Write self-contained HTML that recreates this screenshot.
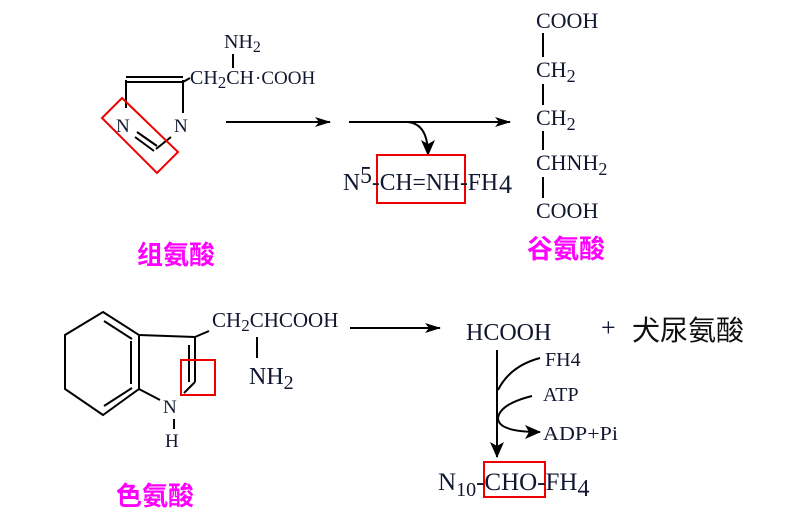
<!DOCTYPE html>
<html><head><meta charset="utf-8"><style>
html,body{margin:0;padding:0;background:#fff;width:787px;height:531px;overflow:hidden}
svg text{font-family:"Liberation Serif","Noto Serif CJK SC",serif;fill:#101830}
.cj{font-family:"Liberation Sans","Noto Sans CJK SC",sans-serif;fill:#ff00ff;font-weight:bold}
</style></head><body>
<svg width="787" height="531" viewBox="0 0 787 531" xmlns="http://www.w3.org/2000/svg">
<defs><marker id="ah" markerWidth="16" markerHeight="10" refX="15" refY="5" orient="auto" markerUnits="userSpaceOnUse"><path d="M0,0 L16,5 L0,10 L4,5 Z" fill="#000"/></marker>
<marker id="ah2" markerWidth="16" markerHeight="14" refX="15" refY="7" orient="auto" markerUnits="userSpaceOnUse"><path d="M0,0 L16,7 L0,14 L4,7 Z" fill="#000"/></marker></defs>
<g stroke="#000" stroke-width="2" fill="none">
<!-- histidine -->
<line x1="126" y1="77" x2="183" y2="77"/><line x1="126" y1="82" x2="183" y2="82"/>
<line x1="126" y1="80" x2="126" y2="108"/><line x1="183" y1="80" x2="183" y2="113"/>
<line x1="137" y1="132" x2="157" y2="146"/><line x1="135" y1="137" x2="154" y2="151"/>
<line x1="156" y1="149" x2="171" y2="137"/>
<line x1="183" y1="82" x2="190" y2="78"/>
<line x1="233" y1="54" x2="233" y2="68"/>
<line x1="226" y1="122" x2="330" y2="122" marker-end="url(#ah)"/>
<line x1="349" y1="122" x2="510" y2="122" marker-end="url(#ah)"/>
<path d="M408,122 Q428,124 428,155" marker-end="url(#ah2)"/>
<!-- glutamate -->
<line x1="543" y1="33" x2="543" y2="57"/><line x1="543" y1="84" x2="543" y2="105"/>
<line x1="543" y1="131" x2="543" y2="150"/><line x1="543" y1="177" x2="543" y2="198"/>
<!-- indole -->
<path d="M103,312 L139,335 L139,389 L103,415 L65,389 L65,335 Z"/>
<line x1="104" y1="321" x2="132" y2="339"/><line x1="131" y1="341" x2="131" y2="384"/><line x1="104" y1="406" x2="132" y2="388"/>
<line x1="139" y1="335" x2="195" y2="337"/>
<line x1="195" y1="337" x2="195" y2="382"/><line x1="189" y1="345" x2="189" y2="382"/>
<line x1="195" y1="382" x2="184" y2="393"/>
<line x1="139" y1="389" x2="160" y2="400"/>
<line x1="174" y1="419" x2="174" y2="429"/>
<line x1="195" y1="337" x2="209" y2="331"/>
<line x1="257" y1="337" x2="257" y2="358"/>
<line x1="350" y1="328" x2="440" y2="328" marker-end="url(#ah)"/>
<line x1="497" y1="350" x2="497" y2="457" marker-end="url(#ah2)"/>
<path d="M540,358 Q510,366 498,390"/>
<path d="M532,396 Q500,404 498,418 Q498,432 540,432" marker-end="url(#ah2)"/>
</g>
<g stroke="#e00" stroke-width="2" fill="none">
<polygon points="102,118 122,98 178,152 157,173"/>
<rect x="377" y="155" width="88" height="48"/>
<rect x="181" y="360" width="34" height="35"/>
<rect x="484" y="462" width="61" height="35"/>
</g>
<g font-size="22">
<text x="224" y="48" font-size="20">NH<tspan font-size="16" dy="4">2</tspan></text>
<text x="190" y="84" font-size="20">CH<tspan font-size="17" dy="4">2</tspan><tspan dy="-4">CH</tspan></text>
<text x="255" y="84" font-size="19">·COOH</text>
<text x="116" y="132" font-size="19">N</text><text x="174" y="132" font-size="19">N</text>
<text x="343" y="190" font-size="24" textLength="155" lengthAdjust="spacingAndGlyphs">N<tspan dy="-7">5</tspan><tspan dy="7">-CH=NH-FH</tspan></text>
<text x="499" y="193" font-size="26">4</text>
<text x="536" y="28">COOH</text>
<text x="536" y="77">CH<tspan font-size="18" dy="5">2</tspan></text>
<text x="536" y="125">CH<tspan font-size="18" dy="5">2</tspan></text>
<text x="536" y="170">CHNH<tspan font-size="18" dy="5">2</tspan></text>
<text x="536" y="218">COOH</text>
<text x="212" y="327" font-size="21">CH<tspan font-size="17" dy="4">2</tspan><tspan dy="-4">CHCOOH</tspan></text>
<text x="249" y="384" font-size="24">NH<tspan font-size="20" dy="5">2</tspan></text>
<text x="163" y="413" font-size="19">N</text><text x="165" y="447" font-size="19">H</text>
<text x="466" y="340" font-size="24">HCOOH</text>
<text x="601" y="336" font-size="26">+</text>
<text x="545" y="366" font-size="20">FH4</text>
<text x="543" y="401" font-size="20">ATP</text>
<text x="543" y="440" font-size="20" textLength="75" lengthAdjust="spacingAndGlyphs">ADP+Pi</text>
<text x="438" y="490" font-size="25">N<tspan font-size="20" dy="6">10</tspan><tspan dy="-6">-CHO-FH</tspan><tspan font-size="24" dy="6">4</tspan></text>
</g>
<text x="632" y="340" font-size="28" style="font-family:'Noto Sans CJK SC',sans-serif;fill:#101010">犬尿氨酸</text>
<text class="cj" x="137" y="264" font-size="26">组氨酸</text>
<text class="cj" x="527" y="258" font-size="26">谷氨酸</text>
<text class="cj" x="116" y="505" font-size="26">色氨酸</text>
</svg>
</body></html>
